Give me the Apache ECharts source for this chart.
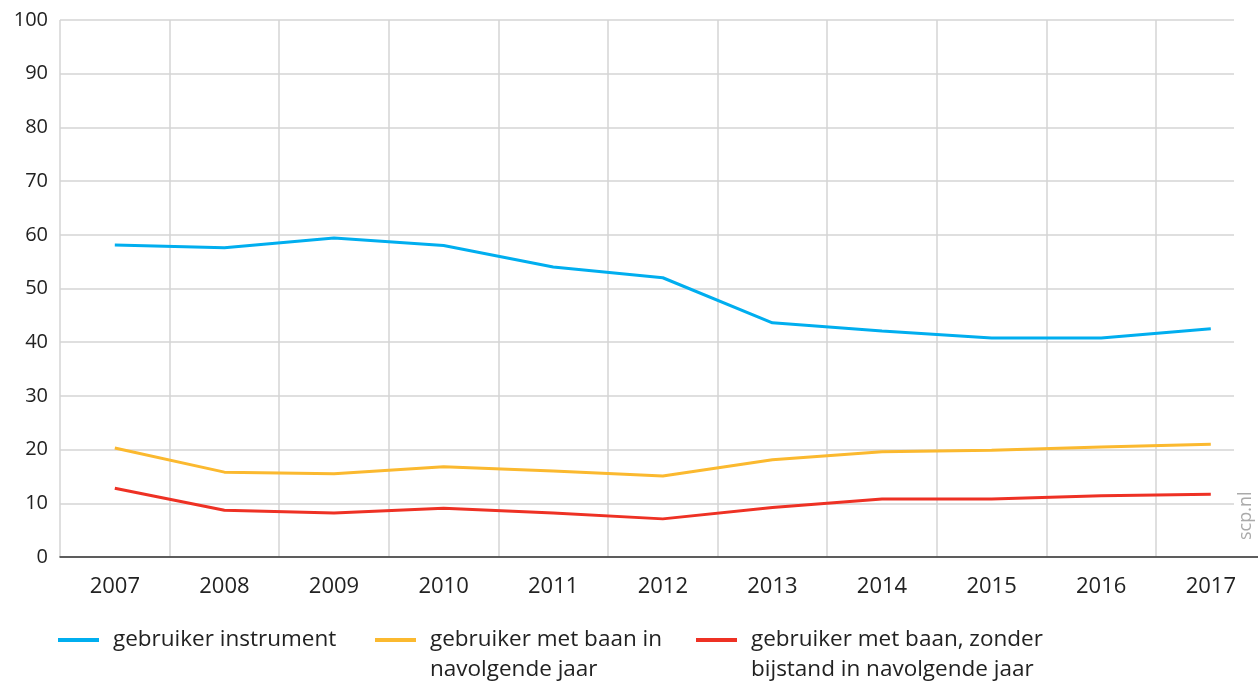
<!DOCTYPE html>
<html>
<head>
<meta charset="utf-8">
<script src="https://cdn.jsdelivr.net/npm/echarts@6/dist/echarts.min.js"></script>
<style>
  html, body { margin: 0; padding: 0; background: #fff; }
  #chart { width: 1258px; height: 682px; }
</style>
</head>
<body>
<div id="chart"></div>
<script>
// jaren en reeksen
let years = ['2007', '2008', '2009', '2010', '2011', '2012', '2013', '2014', '2015', '2016', '2017']
let instrument = [58.1, 57.6, 59.4, 58.0, 54.0, 52.0, 43.6, 42.1, 40.8, 40.8, 42.5]
let metBaan = [20.3, 15.8, 15.5, 16.8, 16.0, 15.1, 18.1, 19.6, 19.9, 20.5, 21.0]
let zonderBijstand = [12.8, 8.7, 8.2, 9.1, 8.2, 7.1, 9.2, 10.8, 10.8, 11.4, 11.7]
let names = ['gebruiker instrument', 'gebruiker met baan in\nnavolgende jaar', 'gebruiker met baan, zonder\nbijstand in navolgende jaar']

let font = 'Open Sans'
let myChart = echarts.init(document.getElementById('chart'))

// streepje bovenaan, zodat het bij de eerste tekstregel staat
let topBar = 'path://M0,0 L41,0 L41,4 L0,4 Z M40.99,33.99 L41,33.99 L41,34 L40.99,34 Z'

let legendBase = function (name, left, twoLines) {
    return {
        data: [name],
        left: left,
        top: 625,
        padding: 0,
        icon: twoLines ? topBar : 'rect',
        itemWidth: 41,
        itemHeight: twoLines ? 34 : 4,
        itemGap: 0,
        selectedMode: false,
        textStyle: {
            fontFamily: font,
            fontSize: 22.5,
            color: '#222',
            lineHeight: 30,
            padding: [0, 0, 0, 9]
        }
    }
}

let lineSeries = function (name, data, color) {
    return {
        name: name,
        type: 'line',
        data: data,
        symbol: 'none',
        color: color,
        lineStyle: { width: 3, color: color }
    }
}

let option = {
    animation: false,
    grid: { left: 60, width: 1205.6, top: 20, bottom: 125, outerBoundsMode: 'none' },
    legend: [
        legendBase(names[0], 58, false),
        legendBase(names[1], 375, true),
        legendBase(names[2], 696, true)
    ],
    xAxis: {
        type: 'category',
        data: years,
        boundaryGap: true,
        axisLine: { lineStyle: { color: '#333', width: 1.5 } },
        axisTick: { alignWithLabel: true, length: 10, lineStyle: { color: '#333', width: 1.5 } },
        axisLabel: { fontFamily: font, fontSize: 22, color: '#222', margin: 19 },
        splitLine: { show: true, interval: 0, lineStyle: { color: '#d4d4d4', width: 1.5 } }
    },
    yAxis: {
        type: 'value',
        min: 0,
        max: 100,
        interval: 10,
        axisLine: { show: false },
        axisTick: { show: false },
        axisLabel: { fontFamily: font, fontSize: 20, color: '#222', margin: 12 },
        splitLine: { lineStyle: { color: '#d4d4d4', width: 1.5 } }
    },
    graphic: [
        {
            type: 'rect',
            shape: { x: 1234, y: 0, width: 40, height: 555 },
            style: { fill: '#fff' },
            z: 50
        },
        {
            type: 'text',
            x: 1237,
            y: 540,
            rotation: Math.PI / 2,
            style: { text: 'scp.nl', fontFamily: font, fontSize: 18, fill: '#aaa' },
            z: 51
        }
    ],
    series: [
        lineSeries(names[0], instrument, '#00aeef'),
        lineSeries(names[1], metBaan, '#fbb92f'),
        lineSeries(names[2], zonderBijstand, '#ee3124')
    ]
}
myChart.setOption(option)
</script>
</body>
</html>
